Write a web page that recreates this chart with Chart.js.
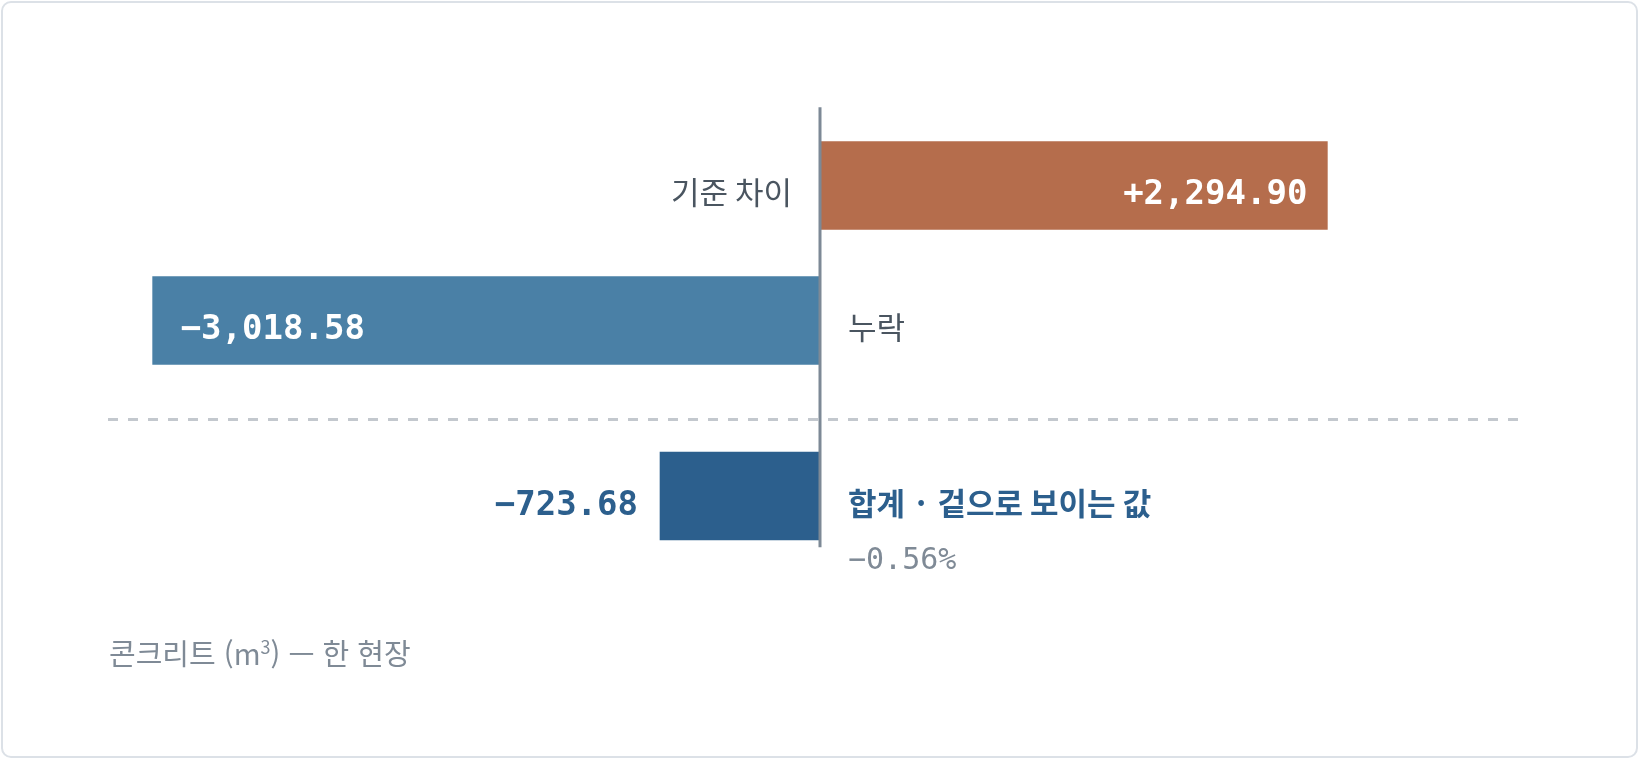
<!DOCTYPE html>
<html lang="ko">
<head>
<meta charset="utf-8">
<title>콘크리트 차이</title>
<script src="https://cdn.jsdelivr.net/npm/chart.js@4.4.1/dist/chart.umd.min.js"></script>
<style>
    html, body { margin: 0; padding: 0; background: #ffffff; }
    .card {
        position: absolute;
        left: 1px; top: 1px;
        width: 1633px; height: 753px;
        border: 2px solid #dce1e7;
        border-radius: 10px;
        background: #ffffff;
    }
    #wrap { position: absolute; left: 0; top: 0; width: 1639px; height: 759px; }
    .note {
        position: absolute;
        left: 109px; top: 633px;
        font-family: "Noto Sans CJK KR", "Noto Sans", sans-serif;
        font-size: 29px;
        color: #7f8a96;
        line-height: 38px;
        white-space: nowrap;
    }
    .note sup { font-size: 18px; vertical-align: 11px; line-height: 0; }
</style>
</head>
<body>
<div class="card"></div>
<div id="wrap"><canvas id="chart" width="1639" height="759"></canvas></div>
<div class="note">콘크리트 (m<sup>3</sup>) — 한 현장</div>

<script>
// data
const categories = ['기준 차이', '누락', '합계 · 겉으로 보이는 값'];
const values = [2294.90, -3018.58, -723.68];
const barColors = ['#b56d4c', '#4a80a6', '#2c5f8d'];
const totalIndex = 2;
const totalPercent = -0.56;

// layout
const separatorGap = 0.3;     // extra room before the total row
const separatorAt = 1.73;
const labelFont = '31px "Noto Sans CJK KR", "Noto Sans", sans-serif';
const labelBold = 'bold 31px "Noto Sans CJK KR", "Noto Sans", sans-serif';
const valueFont = 'bold 34px "DejaVu Sans Mono", monospace';
const pctFont = '30px "DejaVu Sans Mono", monospace';
const textShift = 7;
const valueShift = 10;

const fmt = v => (v >= 0 ? '+' : '\u2212') + Math.abs(v).toLocaleString('en-US', { minimumFractionDigits: 2, maximumFractionDigits: 2 });

const rows = values.map((v, i) => ({ x: v, y: i < totalIndex ? i : i + separatorGap }));

const decorations = {
    id: 'decorations',
    beforeDatasetsDraw(chart) {
        const { ctx, scales: { y } } = chart;
        const sy = Math.round(y.getPixelForValue(separatorAt)) + 0.5;
        ctx.save();
        // dashed separator
        ctx.strokeStyle = '#c3c8ce';
        ctx.lineWidth = 3;
        ctx.setLineDash([10, 10]);
        ctx.beginPath();
        ctx.moveTo(108, sy);
        ctx.lineTo(1521, sy);
        ctx.stroke();
        ctx.restore();
    },
    afterDatasetsDraw(chart) {
        const { ctx, scales: { x, y } } = chart;
        const zero = x.getPixelForValue(0);
        ctx.save();
        // zero axis
        ctx.strokeStyle = '#7d8996';
        ctx.lineWidth = 3;
        ctx.beginPath();
        ctx.moveTo(zero, y.getPixelForValue(-0.58));
        ctx.lineTo(zero, y.getPixelForValue(totalIndex + separatorGap + 0.38));
        ctx.stroke();

        const meta = chart.getDatasetMeta(0);
        ctx.textBaseline = 'middle';
        meta.data.forEach((bar, i) => {
            const v = values[i];
            const cy = bar.y + textShift;
            const vy = bar.y + valueShift;
            const isTotal = i === totalIndex;

            // category label on the other side of the axis
            ctx.font = isTotal ? labelBold : labelFont;
            ctx.fillStyle = isTotal ? barColors[i] : '#4a5560';
            if (v >= 0) {
                ctx.textAlign = 'right';
                ctx.fillText(categories[i], zero - 28, cy);
            } else {
                ctx.textAlign = 'left';
                ctx.fillText(categories[i], zero + 28, cy);
            }

            // value label, inside when it fits
            ctx.font = valueFont;
            const txt = fmt(v);
            const w = ctx.measureText(txt).width;
            const len = Math.abs(bar.x - zero);
            const inside = len > w + 48;
            ctx.fillStyle = inside ? '#ffffff' : barColors[i];
            if (v >= 0) {
                ctx.textAlign = inside ? 'right' : 'left';
                ctx.fillText(txt, inside ? bar.x - 20 : bar.x + 22, vy);
            } else {
                ctx.textAlign = inside ? 'left' : 'right';
                ctx.fillText(txt, inside ? bar.x + 28 : bar.x - 22, vy);
            }

            if (isTotal) {
                ctx.font = pctFont;
                ctx.fillStyle = '#7f8a96';
                ctx.textAlign = 'left';
                ctx.fillText((totalPercent < 0 ? '\u2212' : '+') + Math.abs(totalPercent).toFixed(2) + '%', zero + 28, cy + 58);
            }
        });
        ctx.restore();
    }
};

new Chart(document.getElementById('chart'), {
    type: 'bar',
    data: {
        datasets: [{
            data: rows,
            backgroundColor: barColors,
            borderWidth: 0,
            barThickness: 88
        }]
    },
    options: {
        indexAxis: 'y',
        responsive: false,
        animation: false,
        layout: { padding: { top: 50.5, bottom: 101, left: 2, right: 1 } },
        plugins: { legend: { display: false }, tooltip: { enabled: false } },
        scales: {
            x: { type: 'linear', min: -3700, max: 3700, display: false },
            y: { type: 'linear', min: -1, max: 3.5, reverse: true, offset: false, display: false }
        }
    },
    plugins: [decorations]
});
</script>
</body>
</html>
